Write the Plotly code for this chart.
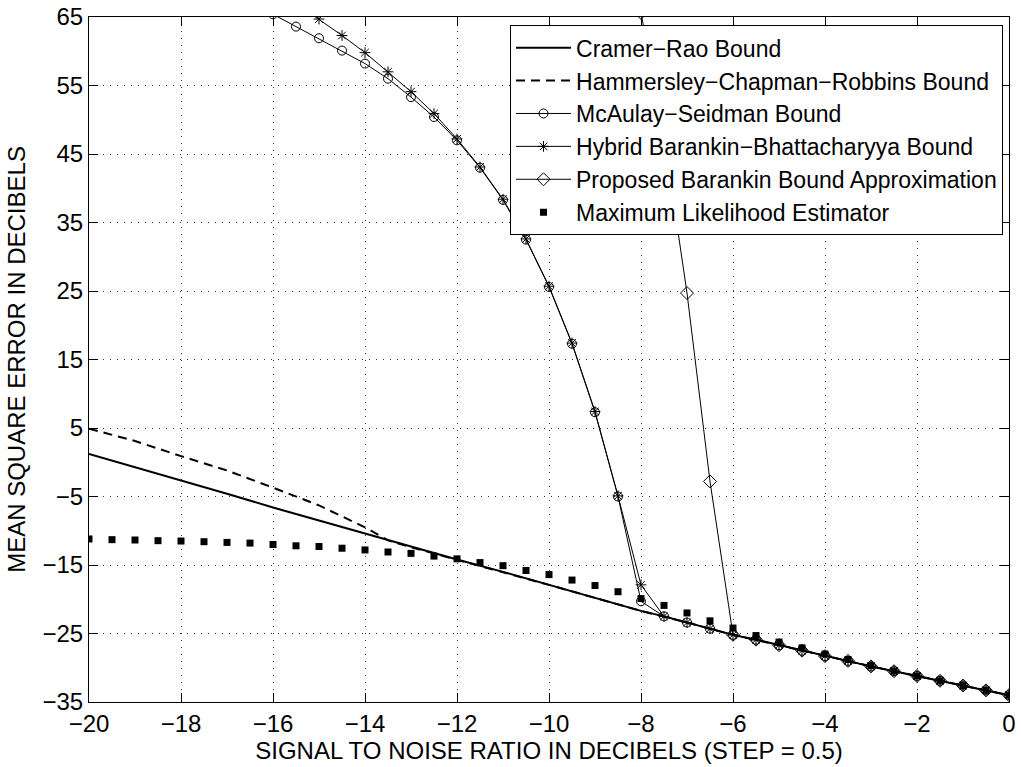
import plotly.graph_objects as go

# ---- data (MSE in dB versus SNR in dB) ----
snr_crb = [-20, -19, -18, -17, -16, -15, -14, -13, -12, -11, -10, -9, -8,
           -7.5, -7, -6.5, -6, -5.5, -5, -4.5, -4, -3.5, -3, -2.5, -2, -1.5, -1, -0.5, 0]
crb = [1.2, -0.7, -2.6, -4.6, -6.6, -8.5, -10.5, -12.4, -14.2, -16.0, -17.9, -19.8, -21.7,
       -22.5, -23.4, -24.3, -25.2, -25.9, -26.7, -27.5, -28.3, -29.0, -29.8, -30.5, -31.2, -31.9, -32.6, -33.3, -34.0]

snr_hcrb = [-20, -19, -18, -17, -16, -15, -14, -13.5, -13, -12, -11, -10, -9, -8,
            -7, -6, -5, -4, -3, -2, -1, 0]
hcrb = [4.9, 3.1, 0.9, -1.2, -3.7, -6.3, -9.5, -11.4, -12.4, -14.2, -16.0, -17.9, -19.8, -21.7,
        -23.4, -25.2, -26.7, -28.3, -29.8, -31.2, -32.6, -34.0]

snr_ms = [-16, -15.5, -15, -14.5, -14, -13.5, -13, -12.5, -12, -11.5, -11, -10.5, -10, -9.5, -9, -8.5, -8,
          -7.5, -7, -6.5, -6, -5.5, -5, -4.5, -4, -3.5, -3, -2.5, -2, -1.5, -1, -0.5, 0]
ms = [65.4, 63.6, 61.9, 60.1, 58.2, 56.0, 53.3, 50.4, 47.0, 43.0, 38.3, 32.5, 25.6, 17.3, 7.3, -5.0, -20.3,
      -22.5, -23.4, -24.3, -25.2, -25.9, -26.7, -27.5, -28.3, -29.0, -29.8, -30.5, -31.2, -31.9, -32.6, -33.3, -34.0]

snr_hbb = [-15.5, -15, -14.5, -14, -13.5, -13, -12.5, -12, -11.5, -11, -10.5, -10, -9.5, -9, -8.5, -8,
           -7.5, -7, -6.5, -6, -5.5, -5, -4.5, -4, -3.5, -3, -2.5, -2, -1.5, -1, -0.5, 0]
hbb = [67.0, 64.7, 62.3, 59.8, 57.0, 54.1, 50.9, 47.2, 43.1, 38.4, 32.6, 25.7, 17.4, 7.4, -4.9, -17.9,
       -22.5, -23.4, -24.3, -25.2, -25.9, -26.7, -27.5, -28.3, -29.0, -29.8, -30.5, -31.2, -31.9, -32.6, -33.3, -34.0]

snr_pbba = [-8, -7.5, -7, -6.5, -6, -5.5, -5, -4.5, -4, -3.5, -3, -2.5, -2, -1.5, -1, -0.5, 0]
pbba = [65.6, 47.6, 24.7, -2.8, -25.2, -25.9, -26.7, -27.5, -28.3, -29.0, -29.8, -30.5, -31.2, -31.9, -32.6, -33.3, -34.0]

snr_ml = [-20, -19.5, -19, -18.5, -18, -17.5, -17, -16.5, -16, -15.5, -15, -14.5, -14, -13.5, -13, -12.5,
          -12, -11.5, -11, -10.5, -10, -9.5, -9, -8.5, -8, -7.5, -7, -6.5, -6, -5.5, -5, -4.5, -4,
          -3.5, -3, -2.5, -2, -1.5, -1, -0.5, 0]
ml = [-11.2, -11.3, -11.35, -11.45, -11.5, -11.6, -11.7, -11.8, -12.0, -12.2, -12.3, -12.55, -12.8, -13.1, -13.3, -13.7,
      -14.1, -14.65, -15.1, -15.8, -16.4, -17.2, -18.0, -18.9, -19.9, -20.9, -22.0, -23.15, -24.2, -25.3, -26.25, -27.1, -28.0,
      -28.8, -29.7, -30.5, -31.2, -31.9, -32.6, -33.3, -34.0]

x_ticks = [-20, -18, -16, -14, -12, -10, -8, -6, -4, -2, 0]
y_ticks = [-35, -25, -15, -5, 5, 15, 25, 35, 45, 55, 65]

FONT = "Liberation Sans, Arial, Helvetica, sans-serif"
FS = 24
FS_LEG = 23

fig = go.Figure()
fig.add_trace(go.Scatter(x=snr_crb, y=crb, mode="lines", name="Cramer\u2212Rao Bound",
                         line=dict(color="black", width=2)))
fig.add_trace(go.Scatter(x=snr_hcrb, y=hcrb, mode="lines", name="Hammersley\u2212Chapman\u2212Robbins Bound",
                         line=dict(color="black", width=2, dash="9px,6px")))
fig.add_trace(go.Scatter(x=snr_ms, y=ms, mode="lines+markers", name="McAulay\u2212Seidman Bound",
                         line=dict(color="black", width=1),
                         marker=dict(symbol="circle-open", size=9, color="black", line=dict(width=1))))
fig.add_trace(go.Scatter(x=snr_hbb, y=hbb, mode="lines+markers", name="Hybrid Barankin\u2212Bhattacharyya Bound",
                         line=dict(color="black", width=1),
                         marker=dict(symbol="asterisk-open", size=9, color="black", line=dict(width=1))))
fig.add_trace(go.Scatter(x=snr_pbba, y=pbba, mode="lines+markers", name="Proposed Barankin Bound Approximation",
                         line=dict(color="black", width=1),
                         marker=dict(symbol="diamond-open", size=10, color="black", line=dict(width=1))))
fig.add_trace(go.Scatter(x=snr_ml, y=ml, mode="markers", name="Maximum Likelihood Estimator",
                         marker=dict(symbol="square", size=7, color="black")))

axis_common = dict(
    showline=True, linecolor="black", linewidth=1, mirror="ticks",
    ticks="inside", ticklen=9, tickcolor="black", tickwidth=1,
    showgrid=True, gridcolor="#333333", gridwidth=1, griddash="1px,6px",
    zeroline=False, tickfont=dict(family=FONT, size=FS, color="black"),
)

fig.update_xaxes(range=[-20, 0], tickvals=x_ticks,
                 title=dict(text="SIGNAL TO NOISE RATIO IN DECIBELS (STEP = 0.5)",
                            font=dict(family=FONT, size=FS, color="black"), standoff=0),
                 **axis_common)
fig.update_yaxes(range=[-35, 65], tickvals=y_ticks,
                 title=dict(text="MEAN SQUARE ERROR IN DECIBELS",
                            font=dict(family=FONT, size=FS, color="black"), standoff=10),
                 **axis_common)

fig.update_layout(
    width=1021, height=767,
    margin=dict(l=89, r=12, t=17, b=65, autoexpand=False),
    paper_bgcolor="white", plot_bgcolor="white",
    font=dict(family=FONT, size=FS, color="black"),
    legend=dict(x=0.9935, y=0.988, xanchor="right", yanchor="top",
                bgcolor="white", bordercolor="black", borderwidth=1,
                font=dict(family=FONT, size=FS_LEG, color="black"),
                itemwidth=55, tracegroupgap=0),
    showlegend=True,
)

fig.write_html("out.html")
